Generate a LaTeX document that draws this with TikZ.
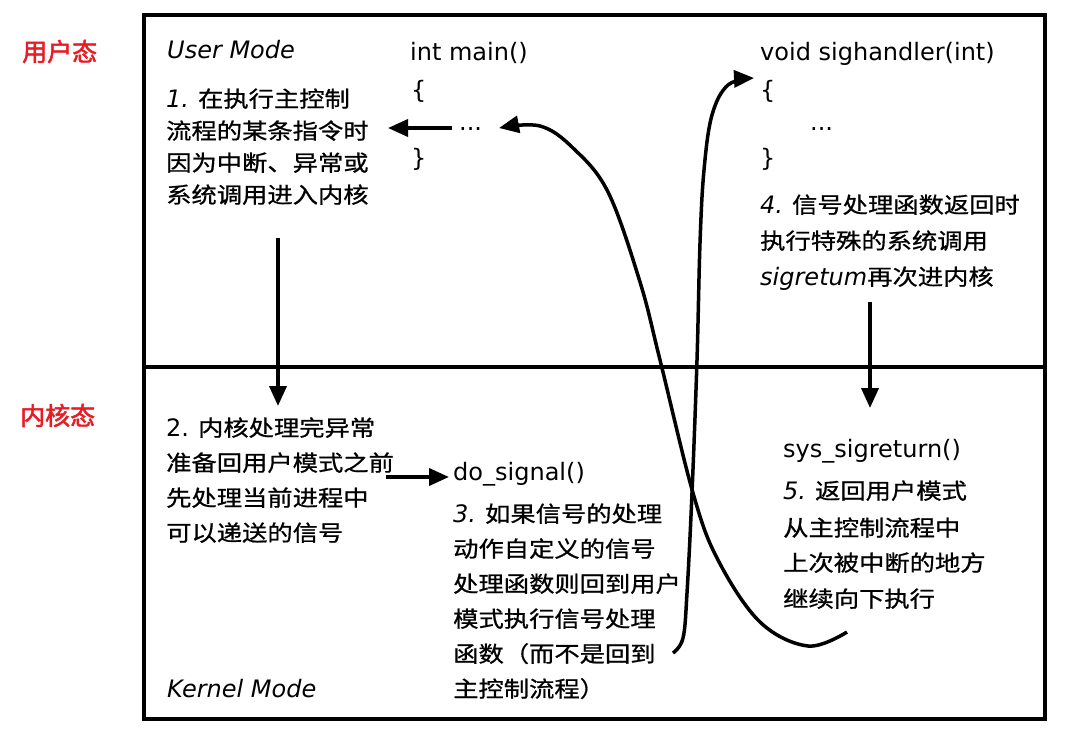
\documentclass[tikz,border=0pt]{standalone}
\usepackage{fontspec}
\setmainfont{DejaVu Sans}
\newfontfamily\latf{DejaVu Sans}
\newfontfamily\cjkf[FakeStretch=1.15,FakeBold=0.8]{Noto Sans CJK SC}
\newfontfamily\cjkb[FakeBold=2]{Noto Sans CJK SC}
\usetikzlibrary{arrows.meta}
\definecolor{lblred}{RGB}{232,28,36}
\newcommand\stepnum[1]{{\latf\itshape\fontsize{24}{28}\selectfont #1}\hspace{9pt}}
\newcommand\stepnumup[1]{{\latf\fontsize{24}{28}\selectfont #1}\hspace{9pt}}
\newcommand\latit[1]{{\latf\itshape\fontsize{24}{28}\selectfont #1}}
\begin{document}
\begin{tikzpicture}[x=1pt,y=-1pt,
 zh/.style={anchor=base west, inner sep=0pt, font=\cjkf\fontsize{22}{26}\selectfont},
 en/.style={anchor=base west, inner sep=0pt, font=\latf\fontsize{24}{28}\selectfont},
 enit/.style={anchor=base west, inner sep=0pt, font=\latf\itshape\fontsize{24}{28}\selectfont},
 redlbl/.style={anchor=base west, inner sep=0pt, text=lblred, font=\cjkb\fontsize{25}{28}\selectfont},
 frame/.style={line width=3.5pt},
 arr/.style={line width=3.8pt, -{Triangle[length=20pt,width=17pt]}},
 curve/.style={line width=3.5pt, -{Triangle[length=20pt,width=17pt]}},
]
\useasboundingbox (0,0) rectangle (1086,728);
\fill[white] (0,0) rectangle (1086,728);

% frame
\draw[frame] (144,15) rectangle (1045,719);
\coordinate (divL) at (144,367);
\coordinate (divR) at (1045,367);
\draw[frame] (divL) -- (divR);

% red side labels
\node[redlbl] (lblUser) at (22,61) {用户态};
\node[redlbl] (lblKern) at (20,425) {内核态};

% user mode
\node[enit] (usermode) at (167,58) {User Mode};
\node[zh] (s1a) at (166,107) {\stepnum{1.}在执行主控制};
\node[zh] (s1b) at (166,139) {流程的某条指令时};
\node[zh] (s1c) at (166,171) {因为中断、异常或};
\node[zh] (s1d) at (166,203) {系统调用进入内核};

\node[en] (main) at (410,60) {int main()};
\node[en] (mainob) at (411,98) {\{};
\node[en] (maindots) at (459,130) {...};
\node[en] (maincb) at (411,166) {\}};

\node[en] (handler) at (760,60) {void sighandler(int)};
\node[en] (handob) at (760,98) {\{};
\node[en] (handdots) at (810,130) {...};
\node[en] (handcb) at (760,166) {\}};

\node[zh] (s4a) at (760,213) {\stepnum{4.}信号处理函数返回时};
\node[zh] (s4b) at (760,249) {执行特殊的系统调用};
\node[zh] (s4c) at (760,285) {\latit{sigretum}再次进内核};

% kernel mode
\node[zh] (s2a) at (166,436) {\stepnumup{2.}内核处理完异常};
\node[zh] (s2b) at (166,471) {准备回用户模式之前};
\node[zh] (s2c) at (166,506) {先处理当前进程中};
\node[zh] (s2d) at (166,541) {可以递送的信号};

\node[en] (dosignal) at (453,480) {do\_signal()};
\node[zh] (s3a) at (453,522) {\stepnum{3.}如果信号的处理};
\node[zh] (s3b) at (453,557) {动作自定义的信号};
\node[zh] (s3c) at (453,592) {处理函数则回到用户};
\node[zh] (s3d) at (453,627) {模式执行信号处理};
\node[zh] (s3e) at (453,662) {函数（而不是回到};
\node[zh] (s3f) at (453,697) {主控制流程）};

\node[enit] (kernmode) at (167,697) {Kernel Mode};

\node[en] (sysret) at (783,457) {sys\_sigreturn()};
\node[zh] (s5a) at (783,499) {\stepnum{5.}返回用户模式};
\node[zh] (s5b) at (783,536) {从主控制流程中};
\node[zh] (s5c) at (783,571) {上次被中断的地方};
\node[zh] (s5d) at (783,607) {继续向下执行};

% straight arrows
\coordinate (a1s) at (452,128);
\coordinate (a1e) at (388,128);
\draw[arr] (a1s) -- (a1e);

\coordinate (a2s) at (278,238);
\coordinate (a2e) at (278,406);
\draw[arr] (a2s) -- (a2e);

\coordinate (a3s) at (386,477);
\coordinate (a3e) at (449,477);
\draw[arr] (a3s) -- (a3e);

\coordinate (a4s) at (870,302);
\coordinate (a4e) at (870,408);
\draw[arr] (a4s) -- (a4e);

% curve: sys_sigreturn back to main flow
\coordinate (cAs) at (847,632);
\coordinate (cAe) at (499,128);
\draw[curve] plot[smooth, tension=0.6] coordinates {(cAs) (808,646) (760,622) (718,560) (693,493) (660,360) (640,282) (608,192) (573,148) (540,126) (cAe)};

% curve: do_signal to sighandler
\coordinate (cBs) at (673,653);
\coordinate (cBe) at (754,78);
\draw[curve] plot[smooth, tension=0.6] coordinates {(cBs) (683,638) (687,593) (692,493) (697,360) (700,243) (704,170) (712,115) (728,85) (cBe)};

\end{tikzpicture}
\end{document}
